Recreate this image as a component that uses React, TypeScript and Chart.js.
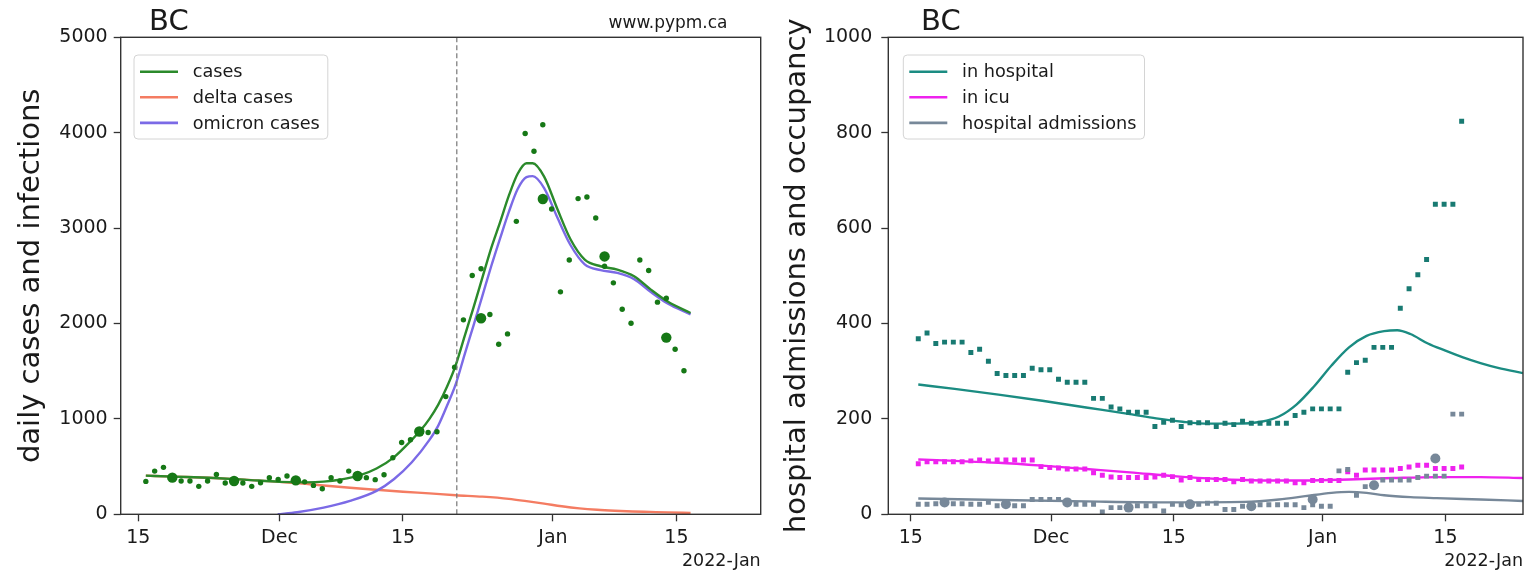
import React, { useEffect, useRef } from 'react';
import { Chart, registerables } from 'chart.js';

Chart.register(...registerables);

const FONT = "'DejaVu Sans', sans-serif";
const TEXT = '#1a1a1a';

// x values are days since 2021-11-15
const TICK_DAYS = [0, 16, 30, 47, 61];
const TICK_LABELS = ['15', 'Dec', '15', 'Jan', '15'];
const OFFSET_LABEL = '2022-Jan';
const POINT_SHIFT = 0.85;
const ALERT_DAY = 36.1;

// ---------- left panel: cases ----------
const DAILY_CASES = [
  345, 453, 492, 384, 349, 349, 293, 349, 418, 328,
  352, 328, 293, 330, 384, 366, 401, 358, 340, 303,
  268, 384, 349, 453, 410, 384, 363, 415, 593, 753,
  781, 880, 858, 865, 1234, 1541, 2038, 2503, 2574, 2094,
  1782, 1891, 3071, 3991, 3806, 4083, 3200, 2332, 2665, 3309,
  3326, 3106, 2600, 2426, 2150, 2003, 2665, 2556, 2224, 2265,
  1730, 1505,
];
const WEEK_DAYS = [3, 10, 17, 24, 31, 38, 45, 52, 59];
const WEEKLY_CASES = [384, 349, 356, 401, 868, 2055, 3305, 2703, 1852];

const CASES_T = [0.85, 4, 8, 12, 16, 19, 21, 23, 25, 27, 29, 31, 32, 33, 34, 35, 36, 37, 38, 39, 40, 41, 42, 43, 44, 44.7, 46, 47.5, 49, 50.6, 52.4, 54.3, 56.2, 58.1, 60, 62.6];
const CASES_MODEL = [405, 395, 383, 364, 340, 335, 342, 365, 405, 480, 600, 780, 880, 1000, 1150, 1340, 1570, 1870, 2170, 2480, 2790, 3060, 3340, 3570, 3680, 3680, 3540, 3200, 2880, 2670, 2600, 2565, 2495, 2355, 2230, 2110];

const DELTA_T = [0.85, 4, 8, 12, 16, 19, 21, 24, 27, 30, 33, 36, 39, 42, 44, 46, 48, 50, 52, 54, 56, 58, 60, 62.6];
const DELTA_MODEL = [405, 395, 383, 364, 340, 320, 302, 278, 257, 237, 219, 200, 185, 162, 138, 112, 84, 62, 47, 37, 30, 25, 20, 15];

const OMICRON_T = [15.8, 18, 21, 24, 27, 29, 31, 33, 34, 35, 36, 37, 38, 39, 40, 41, 42, 43, 44, 44.7, 46, 47.5, 49, 50.6, 52.4, 54.3, 56.2, 58.1, 60, 62.6];
const OMICRON_MODEL = [0, 22, 70, 140, 245, 370, 545, 780, 930, 1140, 1370, 1680, 1980, 2290, 2600, 2890, 3170, 3410, 3535, 3545, 3420, 3110, 2820, 2620, 2560, 2530, 2465, 2330, 2210, 2095];

// ---------- right panel: hospital ----------
const IN_HOSPITAL = [
  368, 380, 358, 361, 361, 361, 339, 346, 321, 295,
  291, 291, 291, 306, 303, 303, 283, 277, 277, 277,
  243, 243, 225, 221, 214, 214, 214, 184, 193, 197,
  184, 192, 192, 192, 184, 191, 188, 195, 191, 191,
  191, 191, 191, 207, 214, 221, 221, 221, 221, 298,
  318, 323, 350, 350, 350, 432, 473, 502, 534, 650,
  650, 650, 824,
];
const IN_ICU = [
  106, 110, 110, 110, 110, 110, 112, 114, 112, 114,
  114, 114, 114, 114, 100, 98, 97, 95, 95, 95,
  87, 82, 78, 77, 77, 77, 77, 78, 82, 79,
  72, 77, 73, 73, 73, 73, 68, 73, 70, 70,
  70, 70, 70, 66, 66, 71, 71, 71, 71, 89,
  82, 93, 93, 93, 93, 96, 99, 103, 103, 96,
  96, 96, 99,
];
const ADMISSIONS = [
  21, 21, 22, 24, 22, 22, 21, 21, 25, 18,
  19, 18, 18, 31, 31, 31, 31, 24, 21, 21,
  21, 5, 14, 14, 14, 18, 18, 18, 7, 21,
  20, 22, 21, 23, 23, 10, 10, 17, 17, 20,
  20, 20, 20, 20, 14, 20, 17, 17, 91, 94,
  40, 58, 62, 72, 72, 72, 72, 77, 80, 80,
  80, 210, 210,
];
const WEEKLY_ADMISSIONS = [25, 21, 25, 14, 21, 17, 31, 61, 117];

const HOSP_T = [0.85, 5, 10, 15, 20, 25, 28, 31, 34, 37, 40, 42, 44, 46, 48, 50, 52, 54, 55.5, 57, 59, 61, 63, 65, 67, 69.85];
const HOSP_MODEL = [272, 263, 251, 238, 224, 210, 201, 194, 190, 190, 194, 205, 230, 268, 312, 350, 374, 384, 386, 378, 358, 343, 329, 317, 307, 296];

const ICU_T = [0.85, 5, 10, 15, 20, 25, 30, 35, 40, 45, 50, 55, 60, 65, 69.85];
const ICU_MODEL = [115, 112, 108, 102, 95, 88, 80, 74, 71, 71, 73, 76, 78, 78, 76];

const ADM_T = [0.85, 10, 20, 30, 38, 42, 45, 48, 50, 52, 54, 57, 60, 65, 69.85];
const ADM_MODEL = [33, 30, 27, 25, 26, 31, 38, 45, 47, 45, 40, 36, 34, 31, 28];

const C_CASES = '#2b8a2b';
const C_DOTS = '#167816';
const C_DELTA = '#f47c62';
const C_OMICRON = '#7b6ae6';
const C_HOSP = '#1b8c82';
const C_ICU = '#ee22ee';
const C_ADM = '#778899';

const pts = (t: number[], v: number[]) => v.map((y, i) => ({ x: t[i], y }));
const dailyPts = (v: number[]) => v.map((y, i) => ({ x: i + POINT_SHIFT, y }));
const weeklyPts = (v: number[]) => v.map((y, i) => ({ x: WEEK_DAYS[i] + POINT_SHIFT, y }));

const lineDs = (label: string, data: any[], color: string) => ({
  label,
  data,
  borderColor: color,
  backgroundColor: color,
  borderWidth: 2.4,
  pointRadius: 0,
  fill: false,
  cubicInterpolationMode: 'monotone',
  showLine: true,
});

const dotDs = (label: string, data: any[], color: string, radius: number, style: string) => ({
  label,
  data,
  showLine: false,
  pointRadius: radius,
  pointStyle: style,
  pointBackgroundColor: color,
  pointBorderWidth: 0,
  borderColor: color,
  backgroundColor: color,
});

interface Spec {
  yTitle: string;
  yMax: number;
  yStep: number;
  xMin: number;
  xMax: number;
  axisWidth: number;
  padRight: number;
  titlePad: number;
  tickPad: number;
  titleX: number;
  legendDx: number;
  legend: { label: string; color: string }[];
  vline?: number;
  url?: string;
  datasets: any[];
}

function drawLegend(ctx: CanvasRenderingContext2D, x: number, y: number, items: { label: string; color: string }[]) {
  ctx.save();
  ctx.font = `17.7px ${FONT}`;
  let maxW = 0;
  items.forEach((it) => { maxW = Math.max(maxW, ctx.measureText(it.label).width); });
  const w = 58.7 + maxW + 8;
  const h = 84;
  const r = 4;
  ctx.beginPath();
  ctx.moveTo(x + r, y);
  ctx.lineTo(x + w - r, y);
  ctx.quadraticCurveTo(x + w, y, x + w, y + r);
  ctx.lineTo(x + w, y + h - r);
  ctx.quadraticCurveTo(x + w, y + h, x + w - r, y + h);
  ctx.lineTo(x + r, y + h);
  ctx.quadraticCurveTo(x, y + h, x, y + h - r);
  ctx.lineTo(x, y + r);
  ctx.quadraticCurveTo(x, y, x + r, y);
  ctx.closePath();
  ctx.fillStyle = 'rgba(255,255,255,0.8)';
  ctx.fill();
  ctx.strokeStyle = '#d4d4d4';
  ctx.lineWidth = 1;
  ctx.stroke();
  items.forEach((it, i) => {
    const cy = y + 16.7 + i * 25.6;
    ctx.strokeStyle = it.color;
    ctx.lineWidth = 2.6;
    ctx.beginPath();
    ctx.moveTo(x + 6, cy);
    ctx.lineTo(x + 44, cy);
    ctx.stroke();
    ctx.fillStyle = TEXT;
    ctx.textAlign = 'left';
    ctx.textBaseline = 'middle';
    ctx.fillText(it.label, x + 58.7, cy + 1);
  });
  ctx.restore();
}

function buildConfig(spec: Spec): any {
  const decor = {
    id: 'decor',
    afterDatasetsDraw(chart: any) {
      const { ctx, chartArea: a } = chart;
      ctx.save();
      if (spec.vline !== undefined) {
        const x = chart.scales.x.getPixelForValue(spec.vline);
        ctx.strokeStyle = '#777';
        ctx.lineWidth = 1.2;
        ctx.setLineDash([5, 3]);
        ctx.beginPath();
        ctx.moveTo(x, a.top);
        ctx.lineTo(x, a.bottom);
        ctx.stroke();
        ctx.setLineDash([]);
      }
      ctx.strokeStyle = '#333';
      ctx.lineWidth = 1.4;
      ctx.strokeRect(a.left, a.top, a.right - a.left, a.bottom - a.top);
      ctx.restore();
      drawLegend(ctx, a.left + spec.legendDx, a.top + 17.7, spec.legend);
      ctx.save();
      ctx.fillStyle = TEXT;
      ctx.textBaseline = 'alphabetic';
      ctx.textAlign = 'left';
      ctx.font = `29px ${FONT}`;
      ctx.fillText('BC', spec.titleX, 30);
      if (spec.url) {
        ctx.font = `17px ${FONT}`;
        ctx.textAlign = 'right';
        ctx.fillText(spec.url, 727.5, 28);
      }
      ctx.restore();
    },
  };
  const tickFont = { family: FONT, size: 19 };
  return {
    type: 'line',
    data: { datasets: spec.datasets },
    options: {
      responsive: false,
      animation: false,
      events: [],
      layout: { padding: { left: 0, right: spec.padRight, top: 37.3, bottom: 0 } },
      plugins: {
        legend: { display: false },
        tooltip: { enabled: false },
        title: { display: false },
      },
      scales: {
        x: {
          type: 'linear',
          min: spec.xMin,
          max: spec.xMax,
          afterFit: (s: any) => { s.height = 60.7; },
          afterBuildTicks: (s: any) => { s.ticks = TICK_DAYS.map((v) => ({ value: v })); },
          ticks: {
            autoSkip: false,
            maxRotation: 0,
            minRotation: 0,
            color: TEXT,
            font: tickFont,
            padding: 5,
            callback: (v: any) => {
              const i = TICK_DAYS.indexOf(Number(v));
              return i >= 0 ? TICK_LABELS[i] : '';
            },
          },
          grid: { drawOnChartArea: false, drawTicks: true, tickLength: 7, tickWidth: 1.3, tickColor: '#333' },
          border: { display: false },
          title: {
            display: true,
            text: OFFSET_LABEL,
            align: 'end',
            color: TEXT,
            font: { family: FONT, size: 17.5, lineHeight: 1 },
            padding: { top: 0, bottom: 4.5 },
          },
        },
        y: {
          min: 0,
          max: spec.yMax,
          afterFit: (s: any) => { s.width = spec.axisWidth; },
          ticks: {
            stepSize: spec.yStep,
            color: TEXT,
            font: tickFont,
            padding: spec.tickPad,
            callback: (v: any) => String(v),
          },
          grid: { drawOnChartArea: false, drawTicks: true, tickLength: 7, tickWidth: 1.3, tickColor: '#333' },
          border: { display: false },
          title: {
            display: true,
            text: spec.yTitle,
            color: TEXT,
            font: { family: FONT, size: 29, lineHeight: 1 },
            padding: { top: spec.titlePad, bottom: 0 },
          },
        },
      },
    },
    plugins: [decor],
  };
}

const leftSpec: Spec = {
  yTitle: 'daily cases and infections',
  yMax: 5000,
  yStep: 1000,
  xMin: -2.0,
  xMax: 70.55,
  axisWidth: 120.7,
  padRight: 5.3,
  titlePad: 16.5,
  tickPad: 6,
  titleX: 149,
  legendDx: 13.3,
  vline: ALERT_DAY,
  url: 'www.pypm.ca',
  legend: [
    { label: 'cases', color: C_CASES },
    { label: 'delta cases', color: C_DELTA },
    { label: 'omicron cases', color: C_OMICRON },
  ],
  datasets: [
    dotDs('weekly cases', weeklyPts(WEEKLY_CASES), C_DOTS, 5.2, 'circle'),
    dotDs('daily cases', dailyPts(DAILY_CASES), C_DOTS, 2.7, 'circle'),
    lineDs('cases', pts(CASES_T, CASES_MODEL), C_CASES),
    lineDs('omicron cases', pts(OMICRON_T, OMICRON_MODEL), C_OMICRON),
    lineDs('delta cases', pts(DELTA_T, DELTA_MODEL), C_DELTA),
  ],
};

const rightSpec: Spec = {
  yTitle: 'hospital admissions and occupancy',
  yMax: 1000,
  yStep: 200,
  xMin: -2.57,
  xMax: 69.85,
  axisWidth: 122.3,
  padRight: 10,
  titlePad: 16.5,
  tickPad: 9,
  titleX: 155,
  legendDx: 15,
  legend: [
    { label: 'in hospital', color: C_HOSP },
    { label: 'in icu', color: C_ICU },
    { label: 'hospital admissions', color: C_ADM },
  ],
  datasets: [
    dotDs('weekly admissions', weeklyPts(WEEKLY_ADMISSIONS), C_ADM, 5, 'circle'),
    dotDs('daily admissions', dailyPts(ADMISSIONS), C_ADM, 3.5, 'rect'),
    dotDs('daily icu', dailyPts(IN_ICU), C_ICU, 3.5, 'rect'),
    dotDs('daily hospital', dailyPts(IN_HOSPITAL), '#187a72', 3.5, 'rect'),
    lineDs('in hospital', pts(HOSP_T, HOSP_MODEL), C_HOSP),
    lineDs('in icu', pts(ICU_T, ICU_MODEL), C_ICU),
    lineDs('hospital admissions', pts(ADM_T, ADM_MODEL), C_ADM),
  ],
};

function Panel({ left, width, spec }: { left: number; width: number; spec: Spec }) {
  const ref = useRef<HTMLCanvasElement>(null);
  useEffect(() => {
    const chart = new Chart(ref.current as HTMLCanvasElement, buildConfig(spec));
    return () => chart.destroy();
  }, [spec]);
  return (
    <canvas
      ref={ref}
      width={width}
      height={575}
      style={{ position: 'absolute', left, top: 0, width, height: 575 }}
    />
  );
}

export default function App() {
  return (
    <div style={{ position: 'fixed', left: 0, top: 0, width: 1533, height: 575, background: '#fff', overflow: 'hidden' }}>
      <Panel left={0} width={766} spec={leftSpec} />
      <Panel left={766} width={767} spec={rightSpec} />
    </div>
  );
}
